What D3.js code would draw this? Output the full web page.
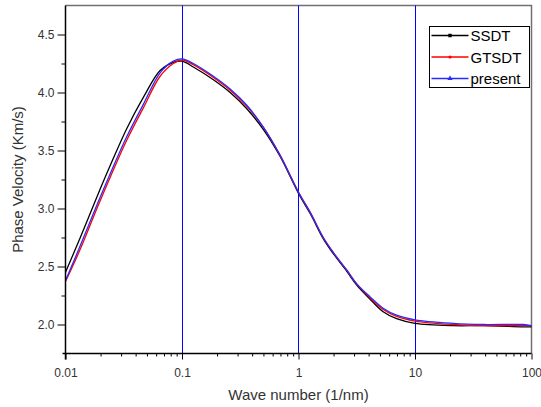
<!DOCTYPE html>
<html>
<head>
<meta charset="utf-8">
<script src="https://cdn.jsdelivr.net/npm/d3@7"></script>
<style>
  html, body { margin: 0; padding: 0; background: #fff; }
  svg { display: block; font-family: "Liberation Sans", Arial, sans-serif; }
</style>
</head>
<body>
<svg id="chart" width="541" height="407"></svg>
<script>
// Wave numbers (1/nm) at which the phase velocities are sampled
const waveNumbers = [0.01, 0.0134, 0.0186, 0.0242, 0.0336, 0.0467, 0.0649, 0.0843, 0.1,
  0.125, 0.186, 0.259, 0.36, 0.5, 0.694, 1, 1.27, 1.63, 1.99, 2.59, 3.16, 4.1, 5.33, 6.95,
  10, 21.3, 38.5, 84.7, 100];

// Phase velocity (Km/s) for each theory
const ssdt = [2.45, 2.75, 3.10, 3.37, 3.69, 3.96, 4.19, 4.26, 4.27,
  4.22, 4.11, 4.00, 3.86, 3.68, 3.45, 3.13, 2.95, 2.74, 2.61, 2.46, 2.34, 2.22, 2.11, 2.05,
  2.01, 1.99, 1.99, 1.98, 1.98];
const gtsdt = [2.37, 2.65, 3.00, 3.27, 3.59, 3.87, 4.14, 4.25, 4.28,
  4.24, 4.13, 4.02, 3.88, 3.70, 3.46, 3.14, 2.96, 2.75, 2.62, 2.47, 2.35, 2.23, 2.13, 2.07,
  2.03, 2.00, 1.99, 1.99, 1.99];
const present = [2.38, 2.68, 3.03, 3.30, 3.62, 3.90, 4.17, 4.27, 4.29,
  4.25, 4.14, 4.03, 3.89, 3.70, 3.46, 3.14, 2.96, 2.75, 2.62, 2.47, 2.35, 2.24, 2.14, 2.08,
  2.04, 2.01, 2.00, 2.00, 1.99];

const seriesNames = ["SSDT", "GTSDT", "present"];
const seriesColors = ["#000000", "#ff0000", "#2a2aff"];
const xTickValues = [0.01, 0.1, 1, 10, 100];
const xTickLabels = ["0.01", "0.1", "1", "10", "100"];
const yTickValues = [2.0, 2.5, 3.0, 3.5, 4.0, 4.5];
const yMinorTicks = [2.25, 2.75, 3.25, 3.75, 4.25];
const guideLines = [0.1, 1, 10];

const svg = d3.select("#chart");
const plot = { left: 65.5, right: 531.5, top: 5.5, bottom: 353.5 };

const x = d3.scaleLog().domain([0.01, 100]).range([plot.left, plot.right]);
const y = d3.scaleLinear().domain([1.75, 4.75]).range([plot.bottom, plot.top]);

// gray frame on top and right
svg.append("path")
  .attr("d", `M${plot.left},${plot.top}H${plot.right}V${plot.bottom}`)
  .attr("fill", "none").attr("stroke", "#707070").attr("stroke-width", 1.5);

// vertical guide lines at each decade
svg.selectAll("line.guide").data(guideLines).join("line")
  .attr("class", "guide")
  .attr("x1", d => Math.round(x(d)) + 0.5).attr("x2", d => Math.round(x(d)) + 0.5)
  .attr("y1", plot.top).attr("y2", plot.bottom)
  .attr("stroke", "#0000ff").attr("stroke-width", 1);

// curves
const line = d3.line()
  .x((d, i) => x(waveNumbers[i]))
  .y(d => y(d))
  .curve(d3.curveCatmullRom.alpha(0.5));

[ssdt, gtsdt, present].forEach((vals, i) => {
  svg.append("path")
    .datum(vals)
    .attr("d", line)
    .attr("fill", "none")
    .attr("stroke", seriesColors[i])
    .attr("stroke-width", 1.3);
});

// x axis: major ticks with labels, minor ticks without
const xMinor = [];
for (let dec = 0.01; dec < 100; dec *= 10) {
  for (let m = 2; m <= 9; m++) xMinor.push(+(dec * m).toPrecision(3));
}
const xAxisG = svg.append("g").attr("transform", `translate(0,${plot.bottom})`);
xAxisG.append("g")
  .call(d3.axisBottom(x).tickValues(xMinor).tickSize(3).tickFormat(""))
  .call(g => g.select(".domain").remove());
xAxisG.append("g")
  .call(d3.axisBottom(x).tickValues(xTickValues).tickSize(6).tickPadding(9)
    .tickFormat((d, i) => xTickLabels[i]))
  .call(g => g.select(".domain").attr("stroke", "#000").attr("stroke-width", 1.5)
    .attr("d", `M${plot.left - 3},0H${plot.right}`));
xAxisG.selectAll("line").attr("stroke", "#000");
xAxisG.selectAll("text").attr("font-size", 12).attr("fill", "#333")
  .attr("font-family", "Liberation Sans, Arial, sans-serif");

// y axis
const yAxisG = svg.append("g").attr("transform", `translate(${plot.left},0)`);
yAxisG.append("g")
  .call(d3.axisLeft(y).tickValues(yMinorTicks).tickSize(4).tickFormat(""))
  .call(g => g.select(".domain").remove());
yAxisG.append("g")
  .call(d3.axisLeft(y).tickValues(yTickValues).tickSize(8).tickPadding(3)
    .tickFormat(d3.format(".1f")))
  .call(g => g.select(".domain").attr("stroke", "#000").attr("stroke-width", 1.5)
    .attr("d", `M0,${plot.top}V${plot.bottom + 6}`));
yAxisG.selectAll("line").attr("stroke", "#000");
yAxisG.selectAll("text").attr("font-size", 12).attr("fill", "#333")
  .attr("font-family", "Liberation Sans, Arial, sans-serif");

// axis titles
svg.append("text")
  .attr("x", (plot.left + plot.right) / 2).attr("y", 400)
  .attr("text-anchor", "middle").attr("font-size", 15).attr("fill", "#333")
  .text("Wave number (1/nm)");
svg.append("text")
  .attr("transform", `translate(23,${(plot.top + plot.bottom) / 2}) rotate(-90)`)
  .attr("text-anchor", "middle").attr("font-size", 15).attr("fill", "#333")
  .text("Phase Velocity (Km/s)");

// legend
const legend = svg.append("g").attr("transform", "translate(429.5,26.5)");
legend.append("rect").attr("width", 100).attr("height", 61)
  .attr("fill", "#fff").attr("stroke", "#000").attr("stroke-width", 1);
const markers = [d3.symbolSquare, d3.symbolCircle, d3.symbolTriangle];
seriesNames.forEach((name, i) => {
  const yy = 9 + i * 21.5;
  legend.append("line").attr("x1", 2).attr("x2", 39).attr("y1", yy).attr("y2", yy)
    .attr("stroke", seriesColors[i]).attr("stroke-width", 1.3);
  legend.append("path")
    .attr("d", d3.symbol().type(markers[i]).size(i === 1 ? 8 : 12)())
    .attr("transform", `translate(20.5,${yy})`)
    .attr("fill", seriesColors[i]);
  legend.append("text").attr("x", 41).attr("y", yy + 5.5)
    .attr("font-size", 15).attr("fill", "#000").text(name);
});
</script>
</body>
</html>
